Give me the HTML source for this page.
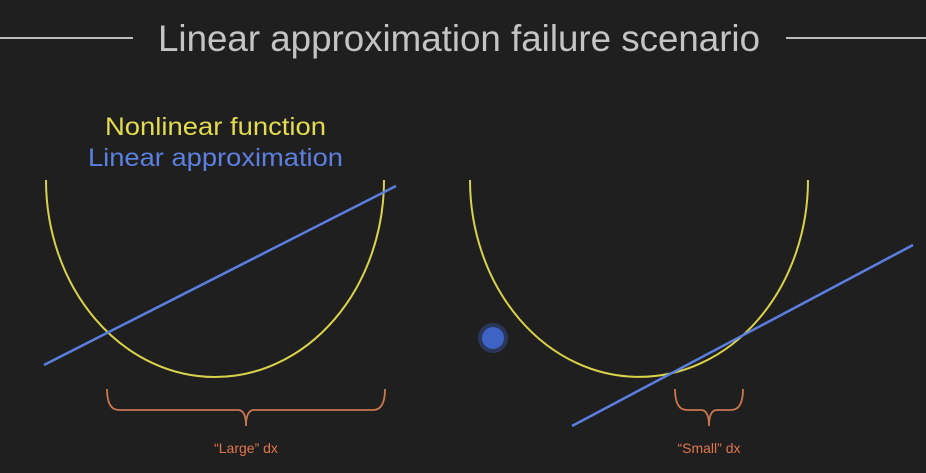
<!DOCTYPE html>
<html><head><meta charset="utf-8"><style>
html,body{margin:0;padding:0;background:#1f1f20;}
svg{display:block;}
</style></head><body>
<svg id="chart" width="926" height="473" viewBox="0 0 926 473">
<rect width="926" height="473" fill="#1f1f20"/>
<line x1="0" y1="38" x2="133" y2="38" stroke="#bdbdbd" stroke-width="2"/>
<line x1="786" y1="38" x2="926" y2="38" stroke="#bdbdbd" stroke-width="2"/>
<text x="459" y="51" text-anchor="middle" font-family="Liberation Sans, sans-serif" font-size="37" fill="#c4c4c4" textLength="602" lengthAdjust="spacingAndGlyphs">Linear approximation failure scenario</text>
<text x="105" y="135" font-family="Liberation Sans, sans-serif" font-size="25" fill="#e3dc4e" textLength="221" lengthAdjust="spacingAndGlyphs">Nonlinear function</text>
<text x="88" y="166" font-family="Liberation Sans, sans-serif" font-size="25" fill="#5c80e0" textLength="255" lengthAdjust="spacingAndGlyphs">Linear approximation</text>
<g id="marks"></g>
<circle cx="493" cy="338" r="15" fill="#3f63c9" opacity="0.35"/>
<circle cx="493" cy="338" r="11" fill="#3e63c4"/>
</svg>
<script>
// curve centres (x), top y, half-width, depth
const curveCenters = [215, 639];
const curveTop = [180, 180];
const curveHalfWidth = [169, 169];
const curveDepth = [197, 197];
// tangent/secant line endpoints
const lineX1 = [44, 572], lineY1 = [365, 426];
const lineX2 = [396, 913], lineY2 = [186, 245];
// brace ranges and labels
const braceX1 = [107, 675], braceX2 = [385, 743];
const braceLabels = ['\u201cLarge\u201d dx', '\u201cSmall\u201d dx'];

const NS = 'http://www.w3.org/2000/svg';
const g = document.getElementById('marks');
function mk(tag, attrs){const e=document.createElementNS(NS,tag);for(const k in attrs)e.setAttribute(k,attrs[k]);g.appendChild(e);return e;}

for(let i=0;i<curveCenters.length;i++){
  const cx=curveCenters[i], t=curveTop[i], rx=curveHalfWidth[i], ry=curveDepth[i];
  const c = mk('path',{d:`M${cx-rx},${t} A${rx},${ry} 0 0 0 ${cx+rx},${t}`,fill:'none',stroke:'#d9d34a','stroke-width':2});
  
  
  const l = mk('line',{x1:lineX1[i],y1:lineY1[i],x2:lineX2[i],y2:lineY2[i],stroke:'#5a7fdf','stroke-width':2.5});
  
  
  const a=braceX1[i], b=braceX2[i], m=(a+b)/2, top=389, mid=410, tip=426;
  const br = mk('path',{d:`M${a},${top} Q${a},${mid} ${a+12},${mid} L${m-8},${mid} Q${m},${mid} ${m},${tip} Q${m},${mid} ${m+8},${mid} L${b-12},${mid} Q${b},${mid} ${b},${top}`,fill:'none',stroke:'#c8774f','stroke-width':1.8});
  
  
  const tx = mk('text',{x:m,y:453,'text-anchor':'middle','font-family':'Liberation Sans, sans-serif','font-size':14,fill:'#e0764c'});
  tx.textContent = braceLabels[i];
  
  
}
</script>
</body></html>
